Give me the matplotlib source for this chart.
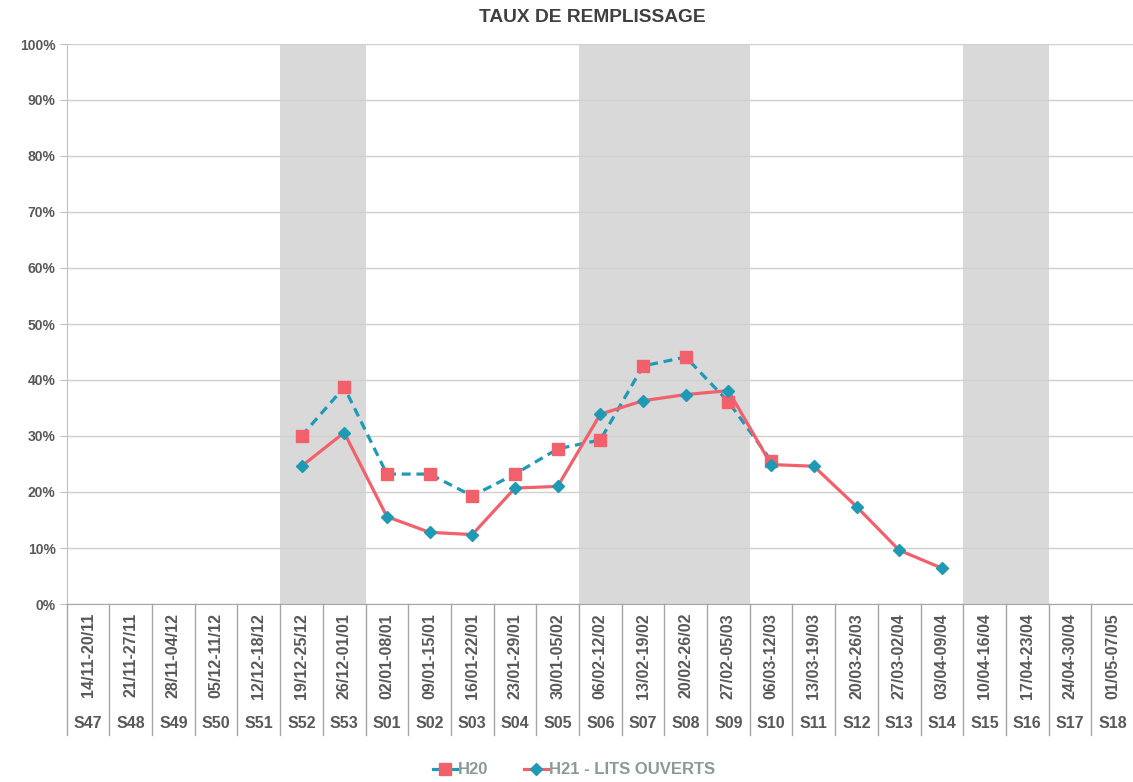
import matplotlib.pyplot as plt
from matplotlib.lines import Line2D
import numpy as np

plt.rcParams['font.family'] = ['Liberation Sans', 'DejaVu Sans']

# weeks and date ranges (x axis, two levels)
weeks = ["S47", "S48", "S49", "S50", "S51", "S52", "S53", "S01", "S02", "S03",
         "S04", "S05", "S06", "S07", "S08", "S09", "S10", "S11", "S12", "S13",
         "S14", "S15", "S16", "S17", "S18"]
dates = ["14/11-20/11", "21/11-27/11", "28/11-04/12", "05/12-11/12", "12/12-18/12",
         "19/12-25/12", "26/12-01/01", "02/01-08/01", "09/01-15/01", "16/01-22/01",
         "23/01-29/01", "30/01-05/02", "06/02-12/02", "13/02-19/02", "20/02-26/02",
         "27/02-05/03", "06/03-12/03", "13/03-19/03", "20/03-26/03", "27/03-02/04",
         "03/04-09/04", "10/04-16/04", "17/04-23/04", "24/04-30/04", "01/05-07/05"]

nan = np.nan
# filling rate in %
h20 = [nan, nan, nan, nan, nan, 30.0, 38.7, 23.2, 23.2, 19.3,
       23.2, 27.7, 29.3, 42.5, 44.1, 36.1, 25.6, nan, nan, nan,
       nan, nan, nan, nan, nan]
h21 = [nan, nan, nan, nan, nan, 24.6, 30.6, 15.6, 12.8, 12.4,
       20.7, 21.0, 33.9, 36.3, 37.4, 38.1, 24.9, 24.6, 17.4, 9.6,
       6.4, nan, nan, nan, nan]

# school holiday periods (first week, last week)
holidays = [("S52", "S53"), ("S06", "S09"), ("S15", "S16")]

red = "#F2616B"
teal = "#1E9AB4"
label_col = "#595959"

fig = plt.figure(figsize=(11.33, 7.82), dpi=100)
ax = fig.add_axes([66.7 / 1133, 1 - 604 / 782, (1134 - 66.7) / 1133, 560 / 782])

x = np.arange(len(weeks))

for start, end in holidays:
    i0 = weeks.index(start)
    i1 = weeks.index(end)
    ax.axvspan(i0 - 0.5, i1 + 0.5, color="#D9D9D9", zorder=0, lw=0)

ax.plot(x, h20, color=teal, lw=2.3, ls=(0, (2.8, 1.8)), marker="s", ms=8,
        mfc=red, mec=red, zorder=3)
ax.plot(x, h21, color=red, lw=2.3, marker="D", ms=6,
        mfc=teal, mec=teal, zorder=4)

ax.set_xlim(-0.5, len(weeks) - 0.5)
ax.set_ylim(0, 100)
ax.set_yticks(np.arange(0, 101, 10))
ax.set_yticklabels([f"{v}%" for v in range(0, 101, 10)], fontsize=10,
                   fontweight="bold", color=label_col)
ax.yaxis.grid(True, color="#D0D0D0", lw=1)
ax.set_axisbelow(True)
ax.tick_params(axis="y", length=5, color="#BFBFBF", pad=3)
ax.tick_params(axis="x", bottom=False, labelbottom=False)
for s in ["top", "right"]:
    ax.spines[s].set_visible(False)
ax.spines["left"].set_color("#BFBFBF")
ax.spines["bottom"].set_color("#A6A6A6")

# two-level category labels with separators
trans = ax.get_xaxis_transform()
for i in range(len(weeks) + 1):
    ax.plot([i - 0.5, i - 0.5], [0, -0.234], transform=trans, color="#A6A6A6",
            lw=1, clip_on=False)
for i in range(len(weeks)):
    ax.text(i, -0.016, dates[i], transform=trans, rotation=90, ha="center",
            va="top", fontsize=11.5, fontweight="bold", color=label_col)
    ax.text(i, -0.2125, weeks[i], transform=trans, ha="center", va="center",
            fontsize=11.5, fontweight="bold", color=label_col)

fig.text(0.5225, 1 - 18 / 782, "TAUX DE REMPLISSAGE", ha="center", va="center",
         fontsize=13.8, fontweight="bold", color="#404040")

handles = [Line2D([], [], color=teal, lw=2.3, marker="s", ms=8, mfc=red, mec=red),
           Line2D([], [], color=red, lw=2.3, marker="D", ms=6, mfc=teal, mec=teal)]
leg = fig.legend(handles, ["H20", "H21 - LITS OUVERTS"], loc="center",
                 bbox_to_anchor=(0.507, 1 - 770 / 782), ncol=2, frameon=False,
                 handlelength=1.4, handletextpad=0.1, columnspacing=2.15,
                 prop={"weight": "bold", "size": 12})
for t in leg.get_texts():
    t.set_color("#8C9999")

fig.savefig("out.png", dpi=100)
